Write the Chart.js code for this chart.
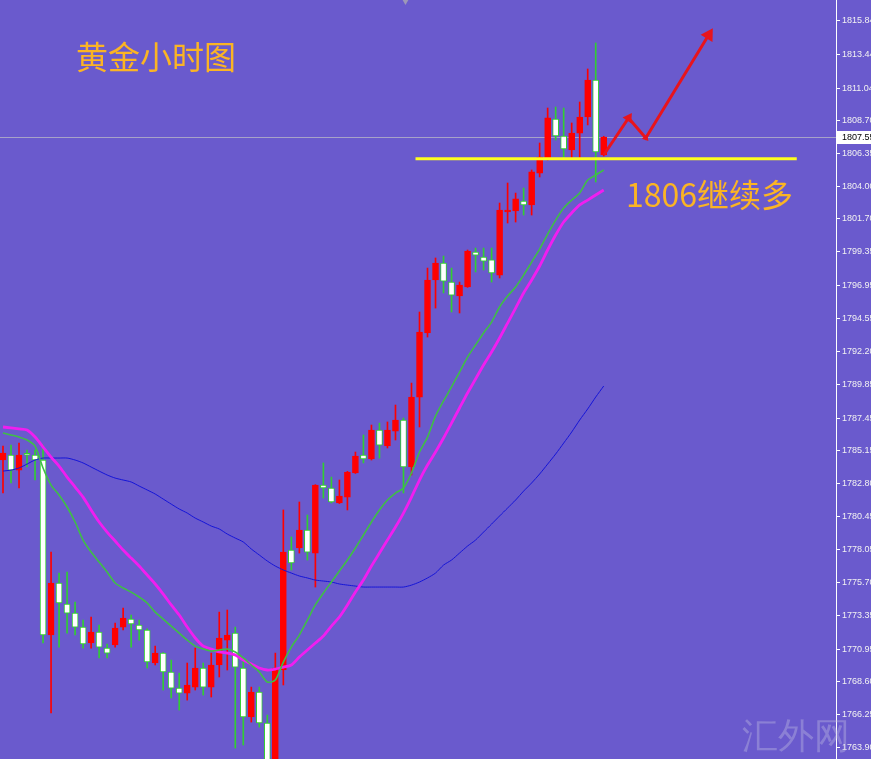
<!DOCTYPE html>
<html>
<head>
<meta charset="utf-8">
<script src="https://cdn.jsdelivr.net/npm/chart.js@4/dist/chart.umd.min.js"></script>
<style>
  html, body { margin: 0; padding: 0; background: #6a5acd; }
  #wrap { width: 871px; height: 759px; position: relative; }
</style>
</head>
<body>
<div id="wrap"><canvas id="chart"></canvas></div>
<script>
// Gold hourly candles (one per hour)
const OPEN = [1784.46,1784.82,1783.74,1784.85,1784.82,1784.46,1771.95,1775.67,1774.17,1773.52,
  1772.52,1771.38,1772.17,1771.02,1771.24,1772.52,1773.09,1772.67,1772.31,1769.95,
  1770.66,1769.31,1768.16,1767.80,1768.23,1769.59,1768.23,1769.81,1771.59,1772.09,
  1769.59,1766.09,1767.88,1765.66,1761.94,1769.45,1778.03,1778.17,1779.46,1777.81,
  1782.67,1782.46,1781.39,1781.81,1783.53,1784.82,1784.53,1786.60,1785.46,1786.53,
  1787.32,1783.96,1788.96,1793.54,1797.33,1798.54,1797.18,1796.18,1796.83,1799.33,
  1798.97,1798.76,1797.68,1802.19,1802.26,1802.97,1802.69,1804.97,1806.05,1808.83,
  1807.62,1806.62,1807.83,1808.98,1811.62,1806.26];
const HIGH = [1785.46,1785.53,1785.67,1785.17,1785.17,1785.53,1777.88,1776.38,1776.45,1774.31,
  1773.02,1773.24,1772.67,1771.31,1772.81,1773.88,1773.38,1773.02,1772.40,1771.16,
  1770.70,1770.16,1769.23,1769.95,1771.02,1769.95,1770.66,1773.59,1773.74,1772.52,
  1770.16,1768.23,1768.23,1766.23,1770.66,1780.89,1778.96,1781.46,1780.53,1782.70,
  1784.25,1783.24,1783.03,1783.65,1785.03,1786.25,1786.96,1787.10,1787.18,1788.39,
  1787.46,1789.96,1795.04,1798.18,1798.90,1799.04,1798.18,1797.18,1799.47,1799.61,
  1799.61,1799.61,1802.83,1804.26,1803.54,1803.90,1805.19,1807.12,1809.62,1809.69,
  1809.62,1808.55,1810.05,1812.41,1814.27,1807.60];
const LOW = [1782.10,1782.82,1782.46,1783.96,1783.03,1771.38,1766.38,1771.09,1772.09,1771.95,
  1771.02,1771.02,1770.31,1770.31,1771.09,1772.31,1771.09,1771.59,1769.59,1769.81,
  1768.02,1767.45,1766.59,1767.30,1768.02,1767.66,1767.52,1768.95,1769.45,1763.87,
  1764.09,1765.73,1765.37,1761.94,1761.59,1768.38,1776.60,1777.81,1777.31,1775.38,
  1781.74,1781.39,1781.35,1780.89,1783.50,1784.25,1784.46,1784.60,1785.32,1785.89,
  1782.10,1783.39,1786.82,1793.25,1795.32,1796.40,1795.04,1794.97,1796.80,1797.90,
  1798.04,1797.18,1797.47,1801.40,1801.47,1801.97,1801.97,1804.69,1805.90,1807.33,
  1806.05,1806.05,1806.05,1808.41,1804.33,1806.19];
const CLOSE = [1784.96,1783.74,1784.82,1784.80,1784.46,1771.95,1775.67,1774.24,1773.52,1772.52,
  1771.31,1772.17,1771.09,1770.66,1772.45,1773.17,1772.74,1772.31,1770.02,1770.66,
  1769.31,1768.16,1767.80,1768.38,1769.59,1768.23,1769.81,1771.74,1771.95,1769.66,
  1766.09,1767.88,1765.66,1762.30,1769.59,1777.88,1777.10,1779.46,1777.88,1782.67,
  1782.46,1781.46,1781.89,1783.60,1784.75,1784.53,1786.60,1785.53,1786.60,1787.32,
  1783.96,1788.96,1793.61,1797.33,1798.54,1797.25,1796.25,1796.97,1799.40,1799.11,
  1798.68,1797.83,1802.33,1802.33,1803.12,1802.69,1805.05,1806.12,1808.91,1807.62,
  1806.69,1807.83,1808.98,1811.62,1806.48,1807.55];

// moving averages as drawn on the chart
const MA_FAST = [1786.39,1786.25,1786.10,1785.89,1785.46,1783.89,1782.67,1781.96,1781.10,1780.03,
  1778.74,1777.88,1777.17,1776.45,1775.67,1775.31,1775.02,1774.67,1774.24,1773.59,
  1773.09,1772.59,1772.09,1771.59,1771.16,1770.95,1770.81,1770.88,1770.95,1770.74,
  1770.31,1769.81,1769.31,1768.59,1768.73,1770.02,1771.09,1771.95,1773.02,1774.10,
  1774.95,1775.74,1776.53,1777.31,1778.17,1779.10,1780.03,1780.89,1781.60,1782.10,
  1782.46,1783.53,1785.03,1786.10,1787.60,1788.68,1789.68,1790.75,1791.82,1792.68,
  1793.54,1794.32,1795.40,1796.18,1796.83,1797.68,1798.61,1799.54,1800.61,1801.61,
  1802.47,1803.04,1803.54,1804.47,1804.83,1805.19];
const MA_MID = [1786.82,1786.75,1786.68,1786.60,1786.10,1785.39,1784.67,1784.03,1783.24,1782.53,
  1781.81,1780.89,1780.03,1779.31,1778.67,1778.03,1777.45,1776.88,1776.24,1775.60,
  1774.88,1774.10,1773.38,1772.52,1771.74,1771.16,1770.95,1770.74,1770.66,1770.52,
  1770.16,1769.88,1769.59,1769.45,1769.52,1769.66,1769.81,1770.38,1770.88,1771.38,
  1771.88,1772.59,1773.24,1774.10,1775.02,1775.88,1776.88,1777.81,1778.74,1779.67,
  1780.67,1781.81,1783.03,1784.10,1785.03,1786.03,1787.10,1788.18,1789.25,1790.25,
  1791.25,1792.18,1793.18,1794.25,1795.32,1796.40,1797.33,1798.33,1799.47,1800.54,
  1801.47,1802.12,1802.69,1803.04,1803.40,1803.76];
const MA_SLOW = [1783.67,1783.74,1783.89,1784.17,1784.46,1784.60,1784.60,1784.60,1784.60,1784.46,
  1784.25,1783.96,1783.67,1783.39,1783.17,1783.03,1782.89,1782.60,1782.32,1782.03,
  1781.67,1781.31,1780.96,1780.67,1780.31,1780.03,1779.74,1779.53,1779.17,1778.88,
  1778.60,1778.10,1777.67,1777.24,1776.88,1776.60,1776.38,1776.17,1776.03,1775.88,
  1775.81,1775.74,1775.60,1775.52,1775.45,1775.38,1775.38,1775.38,1775.38,1775.38,
  1775.38,1775.52,1775.74,1776.03,1776.38,1776.95,1777.31,1777.81,1778.31,1778.74,
  1779.31,1779.88,1780.46,1781.03,1781.60,1782.24,1782.82,1783.46,1784.17,1784.89,
  1785.67,1786.46,1787.32,1788.11,1788.96,1789.75];

// price axis labels (MT4 style, uneven steps)
const Y_TICKS = [1815.84,1813.44,1811.04,1808.70,1806.35,1804.00,1801.70,1799.35,1796.95,1794.55,
  1792.20,1789.85,1787.45,1785.15,1782.80,1780.45,1778.05,1775.70,1773.35,1770.95,
  1768.60,1766.25,1763.90];

// hand-drawn annotations: support line and forecast arrow
const SUPPORT_LEVEL = 1806.0;
const SUPPORT_FROM = 51.5, SUPPORT_TO = 99.1;
const ARROW_X = [75, 78.1, 80.25, 88.1];
const ARROW_Y = [1806.26, 1808.91, 1807.48, 1814.84];
// small grey marker at the top edge
const MARKER_X = 50.25;

const TITLE = '黄金小时图';
const NOTE = '1806继续多';
const WATERMARK = '汇外网';

const Y_MIN = 1763.09, Y_MAX = 1817.34;
const BG = '#6a5acd';
const UP = '#ff0000';
const DOWN_FILL = '#ffffff';
const DOWN_LINE = '#32cd32';

const idx = OPEN.map((_, i) => i);
const isUp = i => CLOSE[i] >= OPEN[i];
const LAST = CLOSE[CLOSE.length - 1];

const bodies = idx.map(i => ({ x: i, y: [OPEN[i], CLOSE[i]] }));
const wicks = idx.map(i => ({ x: i, y: [LOW[i], HIGH[i]] }));
const maPoints = arr => arr.map((v, i) => ({ x: i, y: v }));

// rotate each arrow head along its incoming segment
function arrowRotation(ctx) {
  const i = ctx.dataIndex;
  if (i === 0) return 0;
  const sx = ctx.chart.scales.x, sy = ctx.chart.scales.y;
  const dx = sx.getPixelForValue(ARROW_X[i]) - sx.getPixelForValue(ARROW_X[i - 1]);
  const dy = sy.getPixelForValue(ARROW_Y[i]) - sy.getPixelForValue(ARROW_Y[i - 1]);
  return Math.atan2(dx, -dy) * 180 / Math.PI;
}

const decor = {
  id: 'decor',
  beforeDraw(chart) {
    const { ctx, width, height } = chart;
    ctx.save();
    ctx.fillStyle = BG;
    ctx.fillRect(0, 0, width, height);
    ctx.restore();
  },
  beforeDatasetsDraw(chart) {
    // current price line
    const { ctx, chartArea } = chart;
    const y = Math.round(chart.scales.y.getPixelForValue(LAST)) + 0.5;
    ctx.save();
    ctx.strokeStyle = '#a7a2c8';
    ctx.lineWidth = 1;
    ctx.beginPath();
    ctx.moveTo(chartArea.left, y);
    ctx.lineTo(chartArea.right, y);
    ctx.stroke();
    ctx.restore();
  },
  afterDraw(chart) {
    const { ctx, chartArea } = chart;
    const y = Math.round(chart.scales.y.getPixelForValue(LAST));
    ctx.save();
    // price box on the axis
    ctx.fillStyle = '#ffffff';
    ctx.fillRect(chartArea.right + 1, y - 6, 40, 13);
    ctx.fillStyle = '#000000';
    ctx.font = '9px "Liberation Sans"';
    ctx.textBaseline = 'middle';
    ctx.fillText(LAST.toFixed(2), chartArea.right + 6, y + 1);

    ctx.textBaseline = 'alphabetic';
    ctx.fillStyle = '#fbb424';
    ctx.font = '32px "Noto Sans CJK SC"';
    ctx.fillText(TITLE, 76, 69);
    ctx.fillText(NOTE, 626, 207);

    ctx.fillStyle = 'rgba(190, 184, 225, 0.4)';
    ctx.font = '36px "DejaVu Serif", serif';
    ctx.fillText(WATERMARK, 742, 748);
    ctx.restore();
  }
};

new Chart(document.getElementById('chart'), {
  type: 'bar',
  plugins: [decor],
  data: {
    datasets: [
      {
        type: 'line', label: 'arrow', order: 0,
        data: ARROW_X.map((x, i) => ({ x, y: ARROW_Y[i] })),
        borderColor: '#e8141c', backgroundColor: '#e8141c', borderWidth: 3,
        pointStyle: 'triangle', pointRadius: [0, 6, 4, 8], pointRotation: arrowRotation,
        pointBorderWidth: 0, tension: 0
      },
      {
        type: 'line', label: 'support', order: 0,
        data: [{ x: SUPPORT_FROM, y: SUPPORT_LEVEL }, { x: SUPPORT_TO, y: SUPPORT_LEVEL }],
        borderColor: '#ffff1e', borderWidth: 3, pointRadius: 0
      },
      {
        type: 'line', label: 'marker', order: 0, showLine: false, clip: false,
        data: [{ x: MARKER_X, y: Y_MAX }],
        pointStyle: 'triangle', pointRotation: 180, pointRadius: 5,
        backgroundColor: '#9d98b8', borderWidth: 0
      },
      {
        type: 'line', label: 'MA fast', order: 1, data: maPoints(MA_FAST),
        borderColor: '#3fbf45', borderWidth: 1.6, pointRadius: 0, tension: 0.25
      },
      {
        type: 'line', label: 'MA mid', order: 1, data: maPoints(MA_MID),
        borderColor: '#f01ef0', borderWidth: 2.8, pointRadius: 0, tension: 0.25
      },
      {
        type: 'line', label: 'MA slow', order: 1, data: maPoints(MA_SLOW),
        borderColor: '#1414d8', borderWidth: 1, pointRadius: 0, tension: 0.25
      },
      {
        label: 'body', order: 2, grouped: false, data: bodies,
        barThickness: 6, minBarLength: 2, borderWidth: 1, borderSkipped: false,
        backgroundColor: idx.map(i => isUp(i) ? UP : DOWN_FILL),
        borderColor: idx.map(i => isUp(i) ? UP : DOWN_LINE)
      },
      {
        label: 'wick', order: 3, grouped: false, data: wicks,
        barThickness: 1, borderWidth: 0,
        backgroundColor: idx.map(i => isUp(i) ? UP : DOWN_LINE)
      }
    ]
  },
  options: {
    animation: false,
    responsive: true,
    maintainAspectRatio: false,
    layout: { padding: 0, autoPadding: false },
    plugins: {
      legend: { display: false },
      tooltip: { enabled: false }
    },
    scales: {
      x: { type: 'linear', min: -0.375, max: 104, display: false, offset: false },
      y: {
        position: 'right',
        min: Y_MIN,
        max: Y_MAX,
        afterBuildTicks: axis => { axis.ticks = Y_TICKS.map(v => ({ value: v })); },
        afterFit: axis => { axis.width = 35; axis.paddingTop = 0; axis.paddingBottom = 0; },
        grid: { drawOnChartArea: false, drawTicks: true, tickLength: 4, color: '#ffffff' },
        border: { display: true, color: '#ffffff', width: 1 },
        ticks: {
          autoSkip: false,
          color: '#f2f2f2',
          padding: 2,
          font: { family: 'Liberation Sans', size: 9 },
          callback: v => Number(v).toFixed(2)
        }
      }
    }
  }
});
</script>
</body>
</html>
